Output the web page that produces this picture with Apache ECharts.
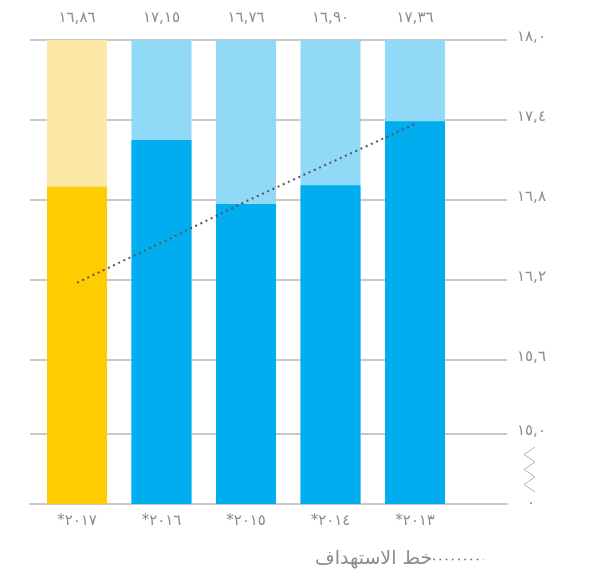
<!DOCTYPE html>
<html>
<head>
<meta charset="utf-8">
<script src="https://cdn.jsdelivr.net/npm/echarts@6/dist/echarts.min.js"></script>
<style>
html,body{margin:0;padding:0;background:#fff;}
#chart{width:592px;height:569px;}
</style>
</head>
<body>
<div id="chart"></div>
<script>
// Categories (displayed right-to-left order as in the picture, left = 2017)
var categories = ['*٢٠١٧', '*٢٠١٦', '*٢٠١٥', '*٢٠١٤', '*٢٠١٣'];
// Bar heights
var barValues = [16.90, 17.25, 16.77, 16.91, 17.39];
// Printed value labels above each bar
var valueLabels = ['١٦,٨٦', '١٧,١٥', '١٦,٧٦', '١٦,٩٠', '١٧,٣٦'];
// Full-height background bars
var capValues = [18, 18, 18, 18, 18];
// Target line
var targetValues = [16.18, 16.48, 16.79, 17.08, 17.37];
var targetName = 'خط الاستهداف';
// Y ticks (real values) and labels
var yTickValues = [0, 15.0, 15.6, 16.2, 16.8, 17.4, 18.0];
var yTickLabels = ['٠', '١٥,٠', '١٥,٦', '١٦,٢', '١٦,٨', '١٧,٤', '١٨,٠'];

// Broken-axis transform: real value -> axis display value
function d(v) {
  if (v >= 15.6) return v;
  if (v >= 15) return 15.045 + (v - 15) * (0.555 / 0.6);
  return 14.52 + v * (0.525 / 15);
}
var yMin = d(0), yMax = 18;
var yTickDisp = yTickValues.map(d);

var darkColors = ['#FFCC00', '#00ADEE', '#00ADEE', '#00ADEE', '#00ADEE'];
var lightColors = ['#FEE8A8', '#90D9F7', '#90D9F7', '#90D9F7', '#90D9F7'];
var FONT = 'DejaVu Sans';

var chart = echarts.init(document.getElementById('chart'));
var option = {
  animation: false,
  grid: [
    {left: 30, right: 85, top: 40, bottom: 65},
    {left: 34.75, right: 134.75, top: 40, bottom: 65}
  ],
  xAxis: [
    {gridIndex: 0, type: 'value', min: 0, max: 1,
     axisLine: {show: true, lineStyle: {color: '#c8c8c8', width: 2}},
     axisTick: {show: false}, axisLabel: {show: false}, splitLine: {show: false}},
    {gridIndex: 1, type: 'category', data: categories,
     axisLine: {show: false}, axisTick: {show: false},
     axisLabel: {color: '#8c8c8c', fontSize: 15, fontFamily: FONT, margin: 10}}
  ],
  yAxis: [
    {gridIndex: 0, type: 'value', position: 'right', min: yMin, max: yMax,
     axisLine: {show: false},
     axisTick: {show: false, customValues: yTickDisp},
     splitLine: {show: true, lineStyle: {color: '#c8c8c8', width: 2}},
     axisLabel: {
       customValues: yTickDisp, margin: 10, align: 'left',
       color: '#8c8c8c', fontSize: 15, fontFamily: FONT,
       formatter: function (val) {
         var best = 0, bd = 1e9;
         for (var i = 0; i < yTickDisp.length; i++) {
           var dd = Math.abs(yTickDisp[i] - val);
           if (dd < bd) { bd = dd; best = i; }
         }
         return best === 0 ? '{z|' + yTickLabels[best] + '}' : '{n|' + yTickLabels[best] + '}';
       },
       rich: {
         n: {color: '#8c8c8c', fontSize: 15, fontFamily: FONT, padding: [0, 0, 6, 0]},
         z: {color: '#8c8c8c', fontSize: 15, fontFamily: FONT, padding: [0, 0, 2, 10]}
       }
     }},
    {gridIndex: 1, type: 'value', min: yMin, max: yMax, show: false, splitLine: {show: false}}
  ],
  legend: {
    data: [targetName], left: 310, top: 545, align: 'right',
    itemWidth: 50, itemHeight: 10, itemGap: 0,
    itemStyle: {opacity: 0},
    lineStyle: {color: '#666', width: 1.6, type: [1.6, 4.6]},
    textStyle: {color: '#8c8c8c', fontSize: 19, fontFamily: FONT, padding: [0, -4, 0, 0]}
  },
  series: [
    {type: 'bar', xAxisIndex: 1, yAxisIndex: 1, barWidth: 60, silent: true,
     data: capValues.map(function (v, i) { return {value: d(v), itemStyle: {color: lightColors[i]}}; }),
     label: {show: true, position: 'top', distance: 14, color: '#8c8c8c', fontSize: 15, fontFamily: FONT,
       formatter: function (p) { return valueLabels[p.dataIndex]; }}},
    {type: 'bar', xAxisIndex: 1, yAxisIndex: 1, barWidth: 60, barGap: '-100%',
     data: barValues.map(function (v, i) { return {value: d(v), itemStyle: {color: darkColors[i]}}; })},
    {name: targetName, type: 'line', xAxisIndex: 1, yAxisIndex: 1, symbol: 'none', z: 5,
     data: targetValues.map(d),
     lineStyle: {color: '#555', width: 2, type: [2, 3.7]}}
  ]
};
chart.setOption(option);

// Axis-break zigzag beside the labels, between the 15.0 and 0 ticks
var yTop = chart.convertToPixel({yAxisIndex: 0}, yTickDisp[1]) + 13;
var yBot = chart.convertToPixel({yAxisIndex: 0}, yTickDisp[0]) - 12;
var xR = 535, xL = 524, pts = [], n = 6;
for (var k = 0; k <= n; k++) {
  pts.push([k % 2 === 0 ? xR : xL, yTop + (yBot - yTop) * k / n]);
}
chart.setOption({graphic: [{type: 'polyline', shape: {points: pts}, style: {stroke: '#b0b0b0', lineWidth: 1, fill: null}}]});
</script>
</body>
</html>
